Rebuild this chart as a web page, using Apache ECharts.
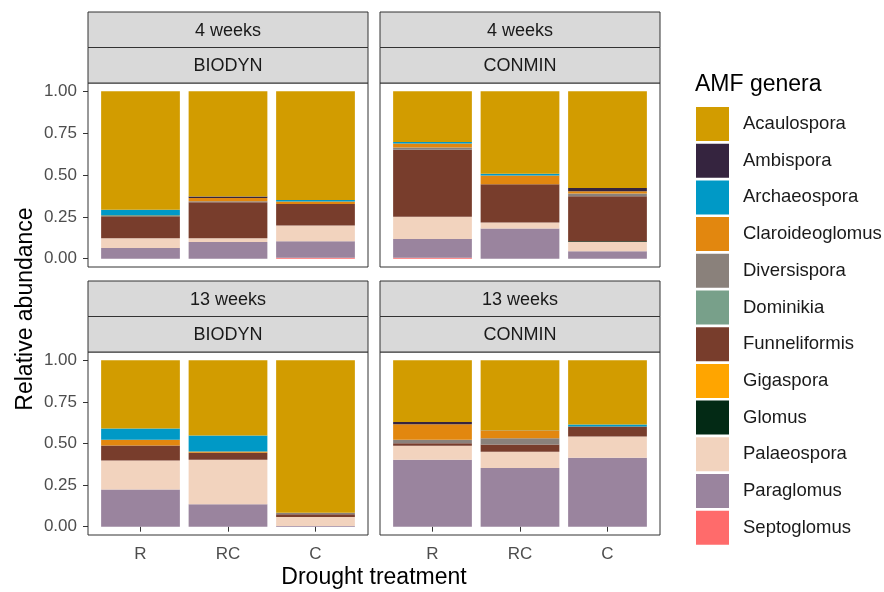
<!DOCTYPE html>
<html>
<head>
<meta charset="utf-8">
<script src="https://cdn.jsdelivr.net/npm/echarts@6/dist/echarts.min.js"></script>
<style>
  html, body { margin: 0; padding: 0; background: #fff; }
  #chart { width: 884px; height: 592px; }
</style>
</head>
<body>
<div id="chart"></div>
<script>
// Genera, top of stack first (legend order)
const genera = ['Acaulospora', 'Ambispora', 'Archaeospora', 'Claroideoglomus', 'Diversispora',
  'Dominikia', 'Funneliformis', 'Gigaspora', 'Glomus', 'Palaeospora', 'Paraglomus', 'Septoglomus'];
const generaColors = ['#D29C00', '#35243F', '#0099C6', '#E2870F', '#8A817B',
  '#78A08A', '#783D2C', '#FFA500', '#032A15', '#F2D3BE', '#9A849E', '#FF6B6B'];
const treatments = ['R', 'RC', 'C'];
const yTicks = [0, 0.25, 0.5, 0.75, 1];

// Relative abundance per genus (rows follow `genera`), columns R, RC, C
const biodyn4wk = [
  [0.707, 0.629, 0.649],
  [0, 0.008, 0],
  [0.032, 0, 0.010],
  [0, 0.020, 0.014],
  [0, 0.006, 0],
  [0.008, 0, 0],
  [0.131, 0.215, 0.129],
  [0, 0, 0],
  [0, 0, 0],
  [0.058, 0.022, 0.094],
  [0.064, 0.100, 0.098],
  [0, 0, 0.006]
];
const conmin4wk = [
  [0.303, 0.493, 0.577],
  [0, 0, 0.020],
  [0.008, 0.010, 0],
  [0.024, 0.052, 0.014],
  [0.014, 0, 0.016],
  [0, 0, 0],
  [0.401, 0.229, 0.269],
  [0, 0, 0],
  [0, 0, 0.004],
  [0.132, 0.036, 0.056],
  [0.112, 0.180, 0.044],
  [0.006, 0, 0]
];
const biodyn13wk = [
  [0.410, 0.452, 0.916],
  [0, 0, 0],
  [0.068, 0.096, 0],
  [0.034, 0.008, 0],
  [0, 0, 0.010],
  [0, 0, 0],
  [0.090, 0.042, 0.016],
  [0, 0, 0],
  [0, 0, 0],
  [0.175, 0.267, 0.054],
  [0.223, 0.135, 0.004],
  [0, 0, 0]
];
const conmin13wk = [
  [0.371, 0.422, 0.386],
  [0.013, 0.002, 0],
  [0, 0, 0.012],
  [0.094, 0.044, 0],
  [0.020, 0.038, 0],
  [0, 0, 0],
  [0.016, 0.044, 0.060],
  [0, 0, 0],
  [0, 0, 0],
  [0.084, 0.097, 0.128],
  [0.402, 0.353, 0.414],
  [0, 0, 0]
];

const panelData = [biodyn4wk, conmin4wk, biodyn13wk, conmin13wk];
const panelTime = ['4 weeks', '4 weeks', '13 weeks', '13 weeks'];
const panelSystem = ['BIODYN', 'CONMIN', 'BIODYN', 'CONMIN'];

const FONT = '"Liberation Sans", Arial, sans-serif';

// Panel frames (plot area borders, with 5% expansion on y and 0.6 units on x)
const panelX = [[88, 368], [380, 660], [88, 368], [380, 660]];
const panelY = [[83, 267], [83, 267], [352, 535], [352, 535]];
const stripH = 35.5;

const grids = [], xAxes = [], yAxes = [], series = [], graphics = [];

panelData.forEach((rows, p) => {
  const [x0, x1] = panelX[p];
  const [y0, y1] = panelY[p];
  const unitX = (x1 - x0) / 3.2;
  const unitY = (y1 - y0) / 1.1;
  const gLeft = x0 + 0.1 * unitX;
  const gTop = y0 + 0.05 * unitY;
  grids.push({ left: gLeft, top: gTop, width: unitX * 3, height: unitY });

  xAxes.push({
    type: 'category', gridIndex: p, data: treatments,
    offset: y1 - (gTop + unitY),
    axisLine: { show: false },
    axisTick: { show: p >= 2, alignWithLabel: true, length: 5, lineStyle: { color: '#333' } },
    axisLabel: { show: p >= 2, color: '#4D4D4D', fontSize: 17, fontFamily: FONT, margin: 11 }
  });
  yAxes.push({
    type: 'value', gridIndex: p, min: 0, max: 1, interval: 0.25,
    offset: gLeft - x0,
    axisLine: { show: false },
    splitLine: { show: false },
    axisTick: { show: p % 2 === 0, length: 5, lineStyle: { color: '#333' } },
    axisLabel: {
      show: p % 2 === 0, color: '#4D4D4D', fontSize: 17, fontFamily: FONT, margin: 11,
      formatter: v => yTicks.includes(v) ? v.toFixed(2) : ''
    }
  });

  // bottom of stack first
  for (let g = genera.length - 1; g >= 0; g--) {
    series.push({
      type: 'bar', name: genera[g], stack: 'panel' + p,
      xAxisIndex: p, yAxisIndex: p,
      barCategoryGap: '10%',
      data: rows[g],
      itemStyle: { color: generaColors[g] },
      emphasis: { disabled: true }
    });
  }

  // panel border
  graphics.push({
    type: 'rect', z: 10, silent: true,
    shape: { x: x0, y: y0, width: x1 - x0, height: y1 - y0 },
    style: { fill: 'none', stroke: '#333', lineWidth: 1 }
  });
  // facet strips
  const strips = [panelTime[p], panelSystem[p]];
  strips.forEach((label, i) => {
    const sy = y0 - stripH * (2 - i);
    graphics.push({
      type: 'rect', z: 10, silent: true,
      shape: { x: x0, y: sy, width: x1 - x0, height: stripH },
      style: { fill: '#D9D9D9', stroke: '#333', lineWidth: 1 }
    });
    graphics.push({
      type: 'text', z: 11, silent: true,
      x: (x0 + x1) / 2, y: sy + stripH / 2 + 1,
      style: { text: label, fill: '#1A1A1A', font: '18px ' + FONT, align: 'center', verticalAlign: 'middle' }
    });
  });
});

// axis titles and legend title
graphics.push({
  type: 'text', silent: true, x: 26, y: 309, rotation: Math.PI / 2,
  style: { text: 'Relative abundance', fill: '#000', font: '23px ' + FONT, align: 'center', verticalAlign: 'middle' }
});
graphics.push({
  type: 'text', silent: true, x: 374, y: 578,
  style: { text: 'Drought treatment', fill: '#000', font: '23px ' + FONT, align: 'center', verticalAlign: 'middle' }
});
graphics.push({
  type: 'text', silent: true, x: 695, y: 85,
  style: { text: 'AMF genera', fill: '#000', font: '23px ' + FONT, align: 'left', verticalAlign: 'middle' }
});

const chart = echarts.init(document.getElementById('chart'), null, { renderer: 'canvas' });
chart.setOption({
  backgroundColor: '#fff',
  animation: false,
  grid: grids,
  xAxis: xAxes,
  yAxis: yAxes,
  series: series,
  legend: {
    data: genera.map(n => ({ name: n, icon: 'rect' })),
    orient: 'vertical', left: 696, top: 107, padding: 0,
    itemWidth: 33, itemHeight: 34, itemGap: 2.7,
    selectedMode: false,
    textStyle: { color: '#1A1A1A', fontSize: 18.5, fontFamily: FONT, padding: [0, 0, 0, 9] }
  },
  graphic: graphics
});
</script>
</body>
</html>
